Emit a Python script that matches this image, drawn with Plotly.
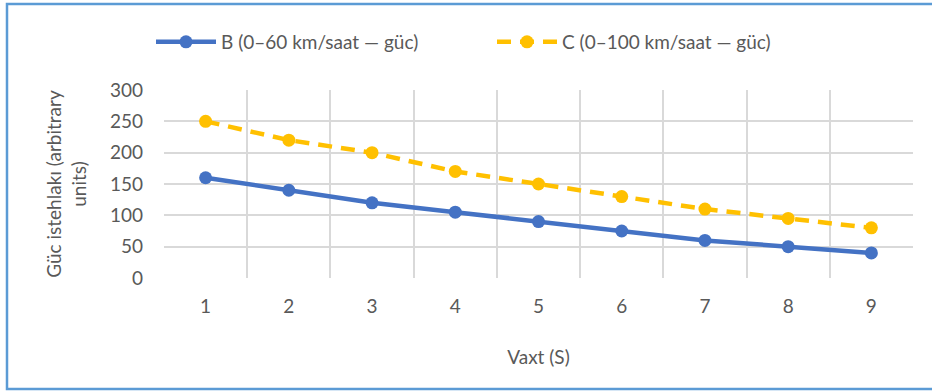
import plotly.graph_objects as go

x_vals = [1, 2, 3, 4, 5, 6, 7, 8, 9]
b_vals = [160, 140, 120, 105, 90, 75, 60, 50, 40]
c_vals = [250, 220, 200, 170, 150, 130, 110, 95, 80]
b_name = "B (0–60 km/saat — güc)"
c_name = "C (0–100 km/saat — güc)"
y_ticks = [0, 50, 100, 150, 200, 250, 300]

W, H = 932, 392
L, R, T, B = 164, 19, 90, 114
pw, ph = W - L - R, H - T - B

FONT = "Lato"
GRAY = "#595959"
GRID = "#D9D9D9"
FS = 19

fig = go.Figure()
fig.add_trace(go.Scatter(x=x_vals, y=b_vals, name=b_name, mode="lines+markers",
                         line=dict(color="#4472C4", width=4.5),
                         marker=dict(size=13, color="#4472C4")))
fig.add_trace(go.Scatter(x=x_vals, y=c_vals, name=c_name, mode="lines+markers",
                         line=dict(color="#FFC000", width=4.5, dash="14px,9px"),
                         marker=dict(size=13, color="#FFC000")))

def px_x(p):
    return (p - L) / pw

def px_y(p):
    return (H - B - p) / ph

fig.add_shape(type="rect", xref="paper", yref="paper",
              x0=px_x(7), x1=px_x(1100), y0=px_y(389), y1=px_y(4),
              line=dict(color="#5B9BD5", width=2.5), fillcolor="rgba(0,0,0,0)", layer="below")

fig.update_layout(
    width=W, height=H,
    margin=dict(l=L, r=R, t=T, b=B, autoexpand=False),
    paper_bgcolor="white", plot_bgcolor="white",
    font=dict(family=FONT, size=FS, color=GRAY),
    showlegend=True,
    legend=dict(orientation="h", x=px_x(151), xanchor="left", y=px_y(42), yanchor="middle",
                font=dict(size=FS, color=GRAY), itemwidth=60,
                entrywidth=266, entrywidthmode="pixels", bgcolor="rgba(0,0,0,0)"),
    xaxis=dict(range=[0.5, 9.5], tickvals=x_vals, showgrid=False, zeroline=False,
               showline=False, ticks="", ticklabelstandoff=15,
               tickfont=dict(size=FS, color=GRAY),
               minor=dict(tick0=0.5, dtick=1, showgrid=True, gridcolor=GRID, gridwidth=2),
               title=dict(text="Vaxt (S)", font=dict(size=FS, color=GRAY), standoff=34),
               automargin=False),
    yaxis=dict(range=[0, 300], tickvals=y_ticks, showgrid=True, gridcolor=GRID, gridwidth=2,
               zeroline=False, showline=False, ticks="", ticklabelstandoff=20,
               tickfont=dict(size=FS, color=GRAY),
               title=dict(text="Güc istehlakı (arbitrary<br>units)", font=dict(size=FS, color=GRAY),
                          standoff=18),
               automargin=False),
)

fig.write_html("out.html")
